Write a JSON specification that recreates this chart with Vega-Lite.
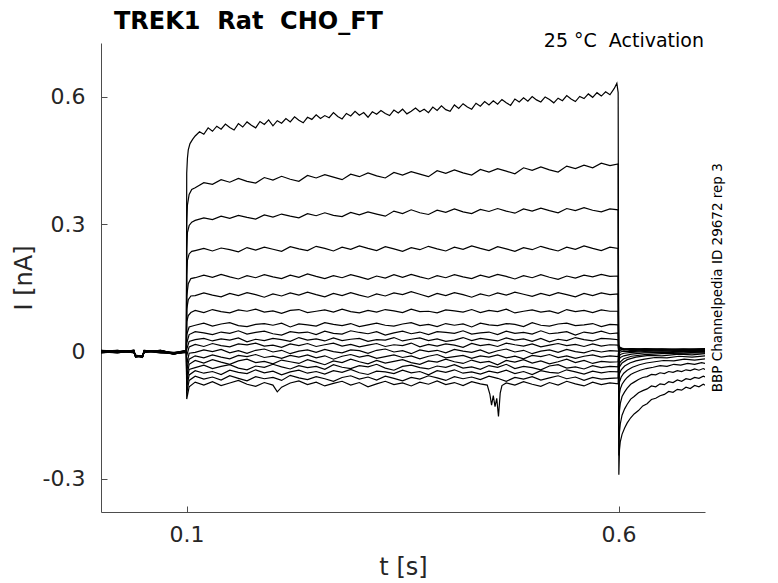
{
  "$schema": "https://vega.github.io/schema/vega-lite/v6.json",
  "description": "TREK1 Rat CHO_FT activation current traces, 25 C",
  "width": 604,
  "height": 469,
  "autosize": {"type": "none"},
  "padding": {"left": 101, "top": 43, "right": 73, "bottom": 71},
  "background": "white",
  "title": {
    "text": "TREK1 \u00a0Rat \u00a0CHO_FT",
    "anchor": "start",
    "frame": "group",
    "dx": 13,
    "dy": 22,
    "offset": 1,
    "baseline": "alphabetic",
    "fontSize": 24,
    "fontWeight": "bold",
    "font": "DejaVu Sans",
    "color": "#000000"
  },
  "config": {"view": {"stroke": null}, "font": "DejaVu Sans"},
  "data": {
    "values": [
      {"k":1,"t":0.001,"I":0.002},{"k":1,"t":0.02,"I":-0.002},{"k":1,"t":0.039,"I":0.001},{"k":1,"t":0.041,"I":-0.011},{"k":1,"t":0.049,"I":-0.013},{"k":1,"t":0.051,"I":0.0},{"k":1,"t":0.07,"I":0.003},{"k":1,"t":0.085,"I":-0.004},{"k":1,"t":0.0998,"I":0.001},
      {"k":1,"t":0.1002,"I":0.42},{"k":1,"t":0.101,"I":0.455},{"k":1,"t":0.102,"I":0.475},{"k":1,"t":0.104,"I":0.49},{"k":1,"t":0.107,"I":0.5},
      {"k":1,"t":0.110,"I":0.508},{"k":1,"t":0.115,"I":0.518},{"k":1,"t":0.120,"I":0.512},{"k":1,"t":0.125,"I":0.527},{"k":1,"t":0.130,"I":0.519},{"k":1,"t":0.135,"I":0.531},{"k":1,"t":0.140,"I":0.524},{"k":1,"t":0.145,"I":0.536},{"k":1,"t":0.150,"I":0.528},{"k":1,"t":0.155,"I":0.522},
      {"k":1,"t":0.160,"I":0.537},{"k":1,"t":0.165,"I":0.529},{"k":1,"t":0.170,"I":0.541},{"k":1,"t":0.175,"I":0.533},{"k":1,"t":0.180,"I":0.527},{"k":1,"t":0.185,"I":0.542},{"k":1,"t":0.190,"I":0.535},{"k":1,"t":0.195,"I":0.546},{"k":1,"t":0.200,"I":0.532},{"k":1,"t":0.205,"I":0.544},
      {"k":1,"t":0.210,"I":0.538},{"k":1,"t":0.215,"I":0.549},{"k":1,"t":0.220,"I":0.541},{"k":1,"t":0.225,"I":0.553},{"k":1,"t":0.230,"I":0.545},{"k":1,"t":0.235,"I":0.539},{"k":1,"t":0.240,"I":0.552},{"k":1,"t":0.245,"I":0.547},{"k":1,"t":0.250,"I":0.558},{"k":1,"t":0.255,"I":0.549},
      {"k":1,"t":0.260,"I":0.556},{"k":1,"t":0.265,"I":0.551},{"k":1,"t":0.270,"I":0.563},{"k":1,"t":0.275,"I":0.554},{"k":1,"t":0.280,"I":0.548},{"k":1,"t":0.285,"I":0.561},{"k":1,"t":0.290,"I":0.555},{"k":1,"t":0.295,"I":0.566},{"k":1,"t":0.300,"I":0.557},{"k":1,"t":0.305,"I":0.563},
      {"k":1,"t":0.310,"I":0.552},{"k":1,"t":0.315,"I":0.565},{"k":1,"t":0.320,"I":0.559},{"k":1,"t":0.325,"I":0.568},{"k":1,"t":0.330,"I":0.561},{"k":1,"t":0.335,"I":0.556},{"k":1,"t":0.340,"I":0.569},{"k":1,"t":0.345,"I":0.562},{"k":1,"t":0.350,"I":0.571},{"k":1,"t":0.355,"I":0.560},
      {"k":1,"t":0.360,"I":0.566},{"k":1,"t":0.365,"I":0.574},{"k":1,"t":0.370,"I":0.565},{"k":1,"t":0.375,"I":0.571},{"k":1,"t":0.380,"I":0.563},{"k":1,"t":0.385,"I":0.576},{"k":1,"t":0.390,"I":0.568},{"k":1,"t":0.395,"I":0.579},{"k":1,"t":0.400,"I":0.570},{"k":1,"t":0.405,"I":0.566},
      {"k":1,"t":0.410,"I":0.581},{"k":1,"t":0.415,"I":0.573},{"k":1,"t":0.420,"I":0.584},{"k":1,"t":0.425,"I":0.576},{"k":1,"t":0.430,"I":0.571},{"k":1,"t":0.435,"I":0.585},{"k":1,"t":0.440,"I":0.578},{"k":1,"t":0.445,"I":0.589},{"k":1,"t":0.450,"I":0.581},{"k":1,"t":0.455,"I":0.591},
      {"k":1,"t":0.460,"I":0.583},{"k":1,"t":0.465,"I":0.594},{"k":1,"t":0.470,"I":0.586},{"k":1,"t":0.475,"I":0.580},{"k":1,"t":0.480,"I":0.595},{"k":1,"t":0.485,"I":0.588},{"k":1,"t":0.490,"I":0.598},{"k":1,"t":0.495,"I":0.590},{"k":1,"t":0.500,"I":0.601},{"k":1,"t":0.505,"I":0.593},
      {"k":1,"t":0.510,"I":0.588},{"k":1,"t":0.515,"I":0.600},{"k":1,"t":0.520,"I":0.594},{"k":1,"t":0.525,"I":0.586},{"k":1,"t":0.530,"I":0.597},{"k":1,"t":0.535,"I":0.591},{"k":1,"t":0.540,"I":0.603},{"k":1,"t":0.545,"I":0.595},{"k":1,"t":0.550,"I":0.589},{"k":1,"t":0.555,"I":0.601},
      {"k":1,"t":0.560,"I":0.596},{"k":1,"t":0.565,"I":0.607},{"k":1,"t":0.570,"I":0.599},{"k":1,"t":0.575,"I":0.610},{"k":1,"t":0.580,"I":0.602},{"k":1,"t":0.585,"I":0.612},{"k":1,"t":0.590,"I":0.605},{"k":1,"t":0.595,"I":0.620},{"k":1,"t":0.598,"I":0.632},{"k":1,"t":0.5995,"I":0.610},
      {"k":1,"t":0.6003,"I":-0.29},{"k":1,"t":0.601,"I":-0.232},{"k":1,"t":0.602,"I":-0.212},{"k":1,"t":0.604,"I":-0.195},{"k":1,"t":0.607,"I":-0.18},{"k":1,"t":0.61,"I":-0.168},{"k":1,"t":0.614,"I":-0.156},{"k":1,"t":0.618,"I":-0.147},{"k":1,"t":0.623,"I":-0.139},{"k":1,"t":0.628,"I":-0.128},
      {"k":1,"t":0.633,"I":-0.123},{"k":1,"t":0.638,"I":-0.113},{"k":1,"t":0.643,"I":-0.11},{"k":1,"t":0.648,"I":-0.104},{"k":1,"t":0.653,"I":-0.101},{"k":1,"t":0.658,"I":-0.094},{"k":1,"t":0.663,"I":-0.096},{"k":1,"t":0.668,"I":-0.089},{"k":1,"t":0.673,"I":-0.091},{"k":1,"t":0.678,"I":-0.084},
      {"k":1,"t":0.683,"I":-0.087},{"k":1,"t":0.688,"I":-0.08},{"k":1,"t":0.693,"I":-0.083},{"k":1,"t":0.698,"I":-0.077},{"k":1,"t":0.7,"I":-0.079},

      {"k":2,"t":0.001,"I":-0.001},{"k":2,"t":0.02,"I":0.003},{"k":2,"t":0.039,"I":-0.002},{"k":2,"t":0.041,"I":-0.009},{"k":2,"t":0.049,"I":-0.012},{"k":2,"t":0.051,"I":0.002},{"k":2,"t":0.07,"I":-0.001},{"k":2,"t":0.085,"I":-0.006},{"k":2,"t":0.0998,"I":0.002},
      {"k":2,"t":0.1002,"I":0.30},{"k":2,"t":0.101,"I":0.345},{"k":2,"t":0.103,"I":0.37},{"k":2,"t":0.106,"I":0.382},
      {"k":2,"t":0.11,"I":0.386},{"k":2,"t":0.12,"I":0.398},{"k":2,"t":0.13,"I":0.394},{"k":2,"t":0.14,"I":0.405},{"k":2,"t":0.15,"I":0.399},{"k":2,"t":0.16,"I":0.408},{"k":2,"t":0.17,"I":0.401},{"k":2,"t":0.18,"I":0.397},{"k":2,"t":0.19,"I":0.41},{"k":2,"t":0.2,"I":0.404},
      {"k":2,"t":0.21,"I":0.413},{"k":2,"t":0.22,"I":0.406},{"k":2,"t":0.23,"I":0.401},{"k":2,"t":0.24,"I":0.415},{"k":2,"t":0.25,"I":0.409},{"k":2,"t":0.26,"I":0.417},{"k":2,"t":0.27,"I":0.411},{"k":2,"t":0.28,"I":0.405},{"k":2,"t":0.29,"I":0.418},{"k":2,"t":0.3,"I":0.412},
      {"k":2,"t":0.31,"I":0.421},{"k":2,"t":0.32,"I":0.414},{"k":2,"t":0.33,"I":0.409},{"k":2,"t":0.34,"I":0.422},{"k":2,"t":0.35,"I":0.416},{"k":2,"t":0.36,"I":0.424},{"k":2,"t":0.37,"I":0.418},{"k":2,"t":0.38,"I":0.412},{"k":2,"t":0.39,"I":0.426},{"k":2,"t":0.4,"I":0.42},
      {"k":2,"t":0.41,"I":0.428},{"k":2,"t":0.42,"I":0.421},{"k":2,"t":0.43,"I":0.416},{"k":2,"t":0.44,"I":0.429},{"k":2,"t":0.45,"I":0.423},{"k":2,"t":0.46,"I":0.431},{"k":2,"t":0.47,"I":0.425},{"k":2,"t":0.48,"I":0.419},{"k":2,"t":0.49,"I":0.433},{"k":2,"t":0.5,"I":0.427},
      {"k":2,"t":0.51,"I":0.435},{"k":2,"t":0.52,"I":0.428},{"k":2,"t":0.53,"I":0.423},{"k":2,"t":0.54,"I":0.437},{"k":2,"t":0.55,"I":0.431},{"k":2,"t":0.56,"I":0.439},{"k":2,"t":0.57,"I":0.433},{"k":2,"t":0.58,"I":0.444},{"k":2,"t":0.59,"I":0.438},{"k":2,"t":0.5995,"I":0.442},
      {"k":2,"t":0.6003,"I":-0.245},{"k":2,"t":0.601,"I":-0.19},{"k":2,"t":0.602,"I":-0.17},{"k":2,"t":0.604,"I":-0.15},{"k":2,"t":0.607,"I":-0.135},{"k":2,"t":0.61,"I":-0.124},{"k":2,"t":0.614,"I":-0.112},{"k":2,"t":0.618,"I":-0.106},{"k":2,"t":0.623,"I":-0.097},{"k":2,"t":0.628,"I":-0.092},
      {"k":2,"t":0.633,"I":-0.088},{"k":2,"t":0.638,"I":-0.081},{"k":2,"t":0.643,"I":-0.083},{"k":2,"t":0.648,"I":-0.076},{"k":2,"t":0.653,"I":-0.078},{"k":2,"t":0.658,"I":-0.071},{"k":2,"t":0.663,"I":-0.073},{"k":2,"t":0.668,"I":-0.067},{"k":2,"t":0.673,"I":-0.07},{"k":2,"t":0.678,"I":-0.064},
      {"k":2,"t":0.683,"I":-0.066},{"k":2,"t":0.688,"I":-0.061},{"k":2,"t":0.693,"I":-0.063},{"k":2,"t":0.698,"I":-0.058},{"k":2,"t":0.7,"I":-0.06},

      {"k":3,"t":0.001,"I":0.003},{"k":3,"t":0.02,"I":-0.001},{"k":3,"t":0.039,"I":0.002},{"k":3,"t":0.041,"I":-0.012},{"k":3,"t":0.049,"I":-0.01},{"k":3,"t":0.051,"I":-0.001},{"k":3,"t":0.07,"I":0.002},{"k":3,"t":0.085,"I":-0.003},{"k":3,"t":0.0998,"I":-0.001},
      {"k":3,"t":0.1002,"I":0.24},{"k":3,"t":0.101,"I":0.28},{"k":3,"t":0.103,"I":0.297},{"k":3,"t":0.106,"I":0.305},
      {"k":3,"t":0.11,"I":0.309},{"k":3,"t":0.12,"I":0.315},{"k":3,"t":0.13,"I":0.311},{"k":3,"t":0.14,"I":0.319},{"k":3,"t":0.15,"I":0.314},{"k":3,"t":0.16,"I":0.321},{"k":3,"t":0.17,"I":0.316},{"k":3,"t":0.18,"I":0.312},{"k":3,"t":0.19,"I":0.322},{"k":3,"t":0.2,"I":0.317},
      {"k":3,"t":0.21,"I":0.324},{"k":3,"t":0.22,"I":0.319},{"k":3,"t":0.23,"I":0.315},{"k":3,"t":0.24,"I":0.325},{"k":3,"t":0.25,"I":0.32},{"k":3,"t":0.26,"I":0.327},{"k":3,"t":0.27,"I":0.321},{"k":3,"t":0.28,"I":0.318},{"k":3,"t":0.29,"I":0.328},{"k":3,"t":0.3,"I":0.322},
      {"k":3,"t":0.31,"I":0.329},{"k":3,"t":0.32,"I":0.324},{"k":3,"t":0.33,"I":0.319},{"k":3,"t":0.34,"I":0.331},{"k":3,"t":0.35,"I":0.325},{"k":3,"t":0.36,"I":0.334},{"k":3,"t":0.37,"I":0.327},{"k":3,"t":0.38,"I":0.323},{"k":3,"t":0.39,"I":0.333},{"k":3,"t":0.4,"I":0.328},
      {"k":3,"t":0.41,"I":0.336},{"k":3,"t":0.42,"I":0.329},{"k":3,"t":0.43,"I":0.325},{"k":3,"t":0.44,"I":0.335},{"k":3,"t":0.45,"I":0.33},{"k":3,"t":0.46,"I":0.337},{"k":3,"t":0.47,"I":0.331},{"k":3,"t":0.48,"I":0.326},{"k":3,"t":0.49,"I":0.336},{"k":3,"t":0.5,"I":0.331},
      {"k":3,"t":0.51,"I":0.338},{"k":3,"t":0.52,"I":0.332},{"k":3,"t":0.53,"I":0.327},{"k":3,"t":0.54,"I":0.337},{"k":3,"t":0.55,"I":0.332},{"k":3,"t":0.56,"I":0.339},{"k":3,"t":0.57,"I":0.333},{"k":3,"t":0.58,"I":0.329},{"k":3,"t":0.59,"I":0.336},{"k":3,"t":0.5995,"I":0.334},
      {"k":3,"t":0.6003,"I":-0.185},{"k":3,"t":0.601,"I":-0.14},{"k":3,"t":0.602,"I":-0.122},{"k":3,"t":0.604,"I":-0.106},{"k":3,"t":0.607,"I":-0.095},{"k":3,"t":0.61,"I":-0.086},{"k":3,"t":0.614,"I":-0.077},{"k":3,"t":0.618,"I":-0.072},{"k":3,"t":0.623,"I":-0.066},{"k":3,"t":0.628,"I":-0.061},
      {"k":3,"t":0.633,"I":-0.059},{"k":3,"t":0.638,"I":-0.054},{"k":3,"t":0.643,"I":-0.055},{"k":3,"t":0.648,"I":-0.05},{"k":3,"t":0.653,"I":-0.052},{"k":3,"t":0.658,"I":-0.047},{"k":3,"t":0.663,"I":-0.049},{"k":3,"t":0.668,"I":-0.045},{"k":3,"t":0.673,"I":-0.047},{"k":3,"t":0.678,"I":-0.043},
      {"k":3,"t":0.683,"I":-0.045},{"k":3,"t":0.688,"I":-0.041},{"k":3,"t":0.693,"I":-0.044},{"k":3,"t":0.698,"I":-0.04},{"k":3,"t":0.7,"I":-0.042},

      {"k":4,"t":0.001,"I":-0.002},{"k":4,"t":0.02,"I":0.002},{"k":4,"t":0.039,"I":-0.001},{"k":4,"t":0.041,"I":-0.008},{"k":4,"t":0.049,"I":-0.013},{"k":4,"t":0.051,"I":0.001},{"k":4,"t":0.07,"I":-0.002},{"k":4,"t":0.085,"I":-0.005},{"k":4,"t":0.0998,"I":0.003},
      {"k":4,"t":0.1002,"I":0.18},{"k":4,"t":0.101,"I":0.215},{"k":4,"t":0.103,"I":0.23},{"k":4,"t":0.106,"I":0.236},
      {"k":4,"t":0.11,"I":0.238},{"k":4,"t":0.12,"I":0.243},{"k":4,"t":0.13,"I":0.237},{"k":4,"t":0.14,"I":0.244},{"k":4,"t":0.15,"I":0.24},{"k":4,"t":0.16,"I":0.235},{"k":4,"t":0.17,"I":0.245},{"k":4,"t":0.18,"I":0.239},{"k":4,"t":0.19,"I":0.246},{"k":4,"t":0.2,"I":0.241},
      {"k":4,"t":0.21,"I":0.236},{"k":4,"t":0.22,"I":0.247},{"k":4,"t":0.23,"I":0.242},{"k":4,"t":0.24,"I":0.238},{"k":4,"t":0.25,"I":0.248},{"k":4,"t":0.26,"I":0.243},{"k":4,"t":0.27,"I":0.237},{"k":4,"t":0.28,"I":0.246},{"k":4,"t":0.29,"I":0.241},{"k":4,"t":0.3,"I":0.249},
      {"k":4,"t":0.31,"I":0.243},{"k":4,"t":0.32,"I":0.238},{"k":4,"t":0.33,"I":0.247},{"k":4,"t":0.34,"I":0.242},{"k":4,"t":0.35,"I":0.236},{"k":4,"t":0.36,"I":0.245},{"k":4,"t":0.37,"I":0.24},{"k":4,"t":0.38,"I":0.248},{"k":4,"t":0.39,"I":0.242},{"k":4,"t":0.4,"I":0.237},
      {"k":4,"t":0.41,"I":0.246},{"k":4,"t":0.42,"I":0.241},{"k":4,"t":0.43,"I":0.249},{"k":4,"t":0.44,"I":0.243},{"k":4,"t":0.45,"I":0.238},{"k":4,"t":0.46,"I":0.247},{"k":4,"t":0.47,"I":0.242},{"k":4,"t":0.48,"I":0.236},{"k":4,"t":0.49,"I":0.245},{"k":4,"t":0.5,"I":0.24},
      {"k":4,"t":0.51,"I":0.248},{"k":4,"t":0.52,"I":0.242},{"k":4,"t":0.53,"I":0.237},{"k":4,"t":0.54,"I":0.246},{"k":4,"t":0.55,"I":0.241},{"k":4,"t":0.56,"I":0.249},{"k":4,"t":0.57,"I":0.243},{"k":4,"t":0.58,"I":0.238},{"k":4,"t":0.59,"I":0.246},{"k":4,"t":0.5995,"I":0.243},
      {"k":4,"t":0.6003,"I":-0.13},{"k":4,"t":0.601,"I":-0.1},{"k":4,"t":0.602,"I":-0.088},{"k":4,"t":0.604,"I":-0.077},{"k":4,"t":0.607,"I":-0.068},{"k":4,"t":0.61,"I":-0.061},{"k":4,"t":0.614,"I":-0.054},{"k":4,"t":0.618,"I":-0.05},{"k":4,"t":0.625,"I":-0.044},{"k":4,"t":0.632,"I":-0.04},
      {"k":4,"t":0.64,"I":-0.037},{"k":4,"t":0.648,"I":-0.033},{"k":4,"t":0.656,"I":-0.035},{"k":4,"t":0.664,"I":-0.03},{"k":4,"t":0.672,"I":-0.032},{"k":4,"t":0.68,"I":-0.028},{"k":4,"t":0.688,"I":-0.03},{"k":4,"t":0.696,"I":-0.026},{"k":4,"t":0.7,"I":-0.028},

      {"k":5,"t":0.001,"I":0.001},{"k":5,"t":0.02,"I":-0.003},{"k":5,"t":0.039,"I":0.003},{"k":5,"t":0.041,"I":-0.01},{"k":5,"t":0.049,"I":-0.011},{"k":5,"t":0.051,"I":0.002},{"k":5,"t":0.07,"I":0.001},{"k":5,"t":0.085,"I":-0.002},{"k":5,"t":0.0998,"I":0.0},
      {"k":5,"t":0.1002,"I":0.13},{"k":5,"t":0.102,"I":0.16},{"k":5,"t":0.105,"I":0.172},
      {"k":5,"t":0.11,"I":0.174},{"k":5,"t":0.12,"I":0.18},{"k":5,"t":0.13,"I":0.175},{"k":5,"t":0.14,"I":0.182},{"k":5,"t":0.15,"I":0.176},{"k":5,"t":0.16,"I":0.171},{"k":5,"t":0.17,"I":0.179},{"k":5,"t":0.18,"I":0.174},{"k":5,"t":0.19,"I":0.181},{"k":5,"t":0.2,"I":0.176},
      {"k":5,"t":0.21,"I":0.172},{"k":5,"t":0.22,"I":0.18},{"k":5,"t":0.23,"I":0.175},{"k":5,"t":0.24,"I":0.183},{"k":5,"t":0.25,"I":0.177},{"k":5,"t":0.26,"I":0.172},{"k":5,"t":0.27,"I":0.179},{"k":5,"t":0.28,"I":0.174},{"k":5,"t":0.29,"I":0.181},{"k":5,"t":0.3,"I":0.176},
      {"k":5,"t":0.31,"I":0.17},{"k":5,"t":0.32,"I":0.178},{"k":5,"t":0.33,"I":0.173},{"k":5,"t":0.34,"I":0.181},{"k":5,"t":0.35,"I":0.175},{"k":5,"t":0.36,"I":0.182},{"k":5,"t":0.37,"I":0.176},{"k":5,"t":0.38,"I":0.171},{"k":5,"t":0.39,"I":0.179},{"k":5,"t":0.4,"I":0.174},
      {"k":5,"t":0.41,"I":0.181},{"k":5,"t":0.42,"I":0.176},{"k":5,"t":0.43,"I":0.172},{"k":5,"t":0.44,"I":0.18},{"k":5,"t":0.45,"I":0.175},{"k":5,"t":0.46,"I":0.182},{"k":5,"t":0.47,"I":0.177},{"k":5,"t":0.48,"I":0.171},{"k":5,"t":0.49,"I":0.179},{"k":5,"t":0.5,"I":0.174},
      {"k":5,"t":0.51,"I":0.181},{"k":5,"t":0.52,"I":0.175},{"k":5,"t":0.53,"I":0.17},{"k":5,"t":0.54,"I":0.178},{"k":5,"t":0.55,"I":0.173},{"k":5,"t":0.56,"I":0.18},{"k":5,"t":0.57,"I":0.176},{"k":5,"t":0.58,"I":0.182},{"k":5,"t":0.59,"I":0.177},{"k":5,"t":0.5995,"I":0.178},
      {"k":5,"t":0.6003,"I":-0.09},{"k":5,"t":0.601,"I":-0.072},{"k":5,"t":0.603,"I":-0.06},{"k":5,"t":0.606,"I":-0.051},{"k":5,"t":0.61,"I":-0.044},{"k":5,"t":0.616,"I":-0.037},{"k":5,"t":0.624,"I":-0.031},{"k":5,"t":0.632,"I":-0.027},{"k":5,"t":0.642,"I":-0.024},{"k":5,"t":0.652,"I":-0.021},
      {"k":5,"t":0.664,"I":-0.022},{"k":5,"t":0.676,"I":-0.018},{"k":5,"t":0.688,"I":-0.02},{"k":5,"t":0.7,"I":-0.017},

      {"k":6,"t":0.001,"I":-0.003},{"k":6,"t":0.02,"I":0.001},{"k":6,"t":0.039,"I":0.0},{"k":6,"t":0.041,"I":-0.013},{"k":6,"t":0.049,"I":-0.009},{"k":6,"t":0.051,"I":-0.002},{"k":6,"t":0.07,"I":0.003},{"k":6,"t":0.085,"I":-0.005},{"k":6,"t":0.0998,"I":0.002},
      {"k":6,"t":0.1002,"I":0.10},{"k":6,"t":0.102,"I":0.122},{"k":6,"t":0.105,"I":0.131},
      {"k":6,"t":0.11,"I":0.132},{"k":6,"t":0.12,"I":0.138},{"k":6,"t":0.13,"I":0.133},{"k":6,"t":0.14,"I":0.129},{"k":6,"t":0.15,"I":0.137},{"k":6,"t":0.16,"I":0.132},{"k":6,"t":0.17,"I":0.139},{"k":6,"t":0.18,"I":0.134},{"k":6,"t":0.19,"I":0.128},{"k":6,"t":0.2,"I":0.136},
      {"k":6,"t":0.21,"I":0.131},{"k":6,"t":0.22,"I":0.138},{"k":6,"t":0.23,"I":0.133},{"k":6,"t":0.24,"I":0.14},{"k":6,"t":0.25,"I":0.134},{"k":6,"t":0.26,"I":0.129},{"k":6,"t":0.27,"I":0.137},{"k":6,"t":0.28,"I":0.132},{"k":6,"t":0.29,"I":0.139},{"k":6,"t":0.3,"I":0.133},
      {"k":6,"t":0.31,"I":0.128},{"k":6,"t":0.32,"I":0.136},{"k":6,"t":0.33,"I":0.131},{"k":6,"t":0.34,"I":0.138},{"k":6,"t":0.35,"I":0.134},{"k":6,"t":0.36,"I":0.141},{"k":6,"t":0.37,"I":0.135},{"k":6,"t":0.38,"I":0.129},{"k":6,"t":0.39,"I":0.137},{"k":6,"t":0.4,"I":0.132},
      {"k":6,"t":0.41,"I":0.139},{"k":6,"t":0.42,"I":0.134},{"k":6,"t":0.43,"I":0.128},{"k":6,"t":0.44,"I":0.136},{"k":6,"t":0.45,"I":0.131},{"k":6,"t":0.46,"I":0.138},{"k":6,"t":0.47,"I":0.133},{"k":6,"t":0.48,"I":0.14},{"k":6,"t":0.49,"I":0.135},{"k":6,"t":0.5,"I":0.13},
      {"k":6,"t":0.51,"I":0.137},{"k":6,"t":0.52,"I":0.132},{"k":6,"t":0.53,"I":0.139},{"k":6,"t":0.54,"I":0.134},{"k":6,"t":0.55,"I":0.129},{"k":6,"t":0.56,"I":0.137},{"k":6,"t":0.57,"I":0.132},{"k":6,"t":0.58,"I":0.138},{"k":6,"t":0.59,"I":0.134},{"k":6,"t":0.5995,"I":0.136},
      {"k":6,"t":0.6003,"I":-0.065},{"k":6,"t":0.601,"I":-0.052},{"k":6,"t":0.603,"I":-0.043},{"k":6,"t":0.607,"I":-0.034},{"k":6,"t":0.613,"I":-0.027},{"k":6,"t":0.62,"I":-0.022},{"k":6,"t":0.63,"I":-0.018},{"k":6,"t":0.642,"I":-0.014},{"k":6,"t":0.656,"I":-0.015},{"k":6,"t":0.67,"I":-0.011},{"k":6,"t":0.685,"I":-0.013},{"k":6,"t":0.7,"I":-0.01},

      {"k":7,"t":0.001,"I":0.002},{"k":7,"t":0.02,"I":0.0},{"k":7,"t":0.039,"I":-0.002},{"k":7,"t":0.041,"I":-0.011},{"k":7,"t":0.049,"I":-0.012},{"k":7,"t":0.051,"I":0.001},{"k":7,"t":0.07,"I":-0.003},{"k":7,"t":0.085,"I":-0.004},{"k":7,"t":0.0998,"I":-0.001},
      {"k":7,"t":0.1002,"I":0.07},{"k":7,"t":0.102,"I":0.085},{"k":7,"t":0.105,"I":0.092},
      {"k":7,"t":0.11,"I":0.097},{"k":7,"t":0.12,"I":0.092},{"k":7,"t":0.13,"I":0.099},{"k":7,"t":0.14,"I":0.094},{"k":7,"t":0.15,"I":0.091},{"k":7,"t":0.16,"I":0.098},{"k":7,"t":0.17,"I":0.095},{"k":7,"t":0.18,"I":0.1},{"k":7,"t":0.19,"I":0.093},{"k":7,"t":0.2,"I":0.096},
      {"k":7,"t":0.21,"I":0.09},{"k":7,"t":0.22,"I":0.097},{"k":7,"t":0.23,"I":0.099},{"k":7,"t":0.24,"I":0.092},{"k":7,"t":0.25,"I":0.095},{"k":7,"t":0.26,"I":0.098},{"k":7,"t":0.27,"I":0.093},{"k":7,"t":0.28,"I":0.1},{"k":7,"t":0.29,"I":0.094},{"k":7,"t":0.3,"I":0.091},
      {"k":7,"t":0.31,"I":0.097},{"k":7,"t":0.32,"I":0.093},{"k":7,"t":0.33,"I":0.099},{"k":7,"t":0.34,"I":0.096},{"k":7,"t":0.35,"I":0.092},{"k":7,"t":0.36,"I":0.1},{"k":7,"t":0.37,"I":0.094},{"k":7,"t":0.38,"I":0.095},{"k":7,"t":0.39,"I":0.091},{"k":7,"t":0.4,"I":0.098},
      {"k":7,"t":0.41,"I":0.096},{"k":7,"t":0.42,"I":0.093},{"k":7,"t":0.43,"I":0.099},{"k":7,"t":0.44,"I":0.092},{"k":7,"t":0.45,"I":0.097},{"k":7,"t":0.46,"I":0.094},{"k":7,"t":0.47,"I":0.1},{"k":7,"t":0.48,"I":0.091},{"k":7,"t":0.49,"I":0.095},{"k":7,"t":0.5,"I":0.098},
      {"k":7,"t":0.51,"I":0.093},{"k":7,"t":0.52,"I":0.096},{"k":7,"t":0.53,"I":0.09},{"k":7,"t":0.54,"I":0.099},{"k":7,"t":0.55,"I":0.094},{"k":7,"t":0.56,"I":0.097},{"k":7,"t":0.57,"I":0.092},{"k":7,"t":0.58,"I":0.098},{"k":7,"t":0.59,"I":0.095},{"k":7,"t":0.5995,"I":0.095},
      {"k":7,"t":0.6003,"I":-0.045},{"k":7,"t":0.601,"I":-0.036},{"k":7,"t":0.604,"I":-0.027},{"k":7,"t":0.61,"I":-0.019},{"k":7,"t":0.62,"I":-0.013},{"k":7,"t":0.635,"I":-0.009},{"k":7,"t":0.65,"I":-0.01},{"k":7,"t":0.67,"I":-0.006},{"k":7,"t":0.685,"I":-0.008},{"k":7,"t":0.7,"I":-0.005},

      {"k":8,"t":0.001,"I":0.0},{"k":8,"t":0.02,"I":0.002},{"k":8,"t":0.039,"I":0.001},{"k":8,"t":0.041,"I":-0.009},{"k":8,"t":0.049,"I":-0.014},{"k":8,"t":0.051,"I":0.0},{"k":8,"t":0.07,"I":0.002},{"k":8,"t":0.085,"I":-0.006},{"k":8,"t":0.0998,"I":0.001},
      {"k":8,"t":0.1002,"I":0.04},{"k":8,"t":0.103,"I":0.058},
      {"k":8,"t":0.11,"I":0.062},{"k":8,"t":0.12,"I":0.067},{"k":8,"t":0.13,"I":0.06},{"k":8,"t":0.14,"I":0.065},{"k":8,"t":0.15,"I":0.068},{"k":8,"t":0.16,"I":0.061},{"k":8,"t":0.17,"I":0.059},{"k":8,"t":0.18,"I":0.064},{"k":8,"t":0.19,"I":0.066},{"k":8,"t":0.2,"I":0.062},
      {"k":8,"t":0.21,"I":0.067},{"k":8,"t":0.22,"I":0.058},{"k":8,"t":0.23,"I":0.065},{"k":8,"t":0.24,"I":0.063},{"k":8,"t":0.25,"I":0.06},{"k":8,"t":0.26,"I":0.068},{"k":8,"t":0.27,"I":0.064},{"k":8,"t":0.28,"I":0.061},{"k":8,"t":0.29,"I":0.066},{"k":8,"t":0.3,"I":0.059},
      {"k":8,"t":0.31,"I":0.063},{"k":8,"t":0.32,"I":0.067},{"k":8,"t":0.33,"I":0.062},{"k":8,"t":0.34,"I":0.06},{"k":8,"t":0.35,"I":0.065},{"k":8,"t":0.36,"I":0.068},{"k":8,"t":0.37,"I":0.061},{"k":8,"t":0.38,"I":0.064},{"k":8,"t":0.39,"I":0.059},{"k":8,"t":0.4,"I":0.066},
      {"k":8,"t":0.41,"I":0.062},{"k":8,"t":0.42,"I":0.065},{"k":8,"t":0.43,"I":0.058},{"k":8,"t":0.44,"I":0.067},{"k":8,"t":0.45,"I":0.063},{"k":8,"t":0.46,"I":0.061},{"k":8,"t":0.47,"I":0.066},{"k":8,"t":0.48,"I":0.064},{"k":8,"t":0.49,"I":0.059},{"k":8,"t":0.5,"I":0.068},
      {"k":8,"t":0.51,"I":0.062},{"k":8,"t":0.52,"I":0.06},{"k":8,"t":0.53,"I":0.065},{"k":8,"t":0.54,"I":0.067},{"k":8,"t":0.55,"I":0.061},{"k":8,"t":0.56,"I":0.063},{"k":8,"t":0.57,"I":0.066},{"k":8,"t":0.58,"I":0.059},{"k":8,"t":0.59,"I":0.064},{"k":8,"t":0.5995,"I":0.063},
      {"k":8,"t":0.6003,"I":-0.032},{"k":8,"t":0.602,"I":-0.024},{"k":8,"t":0.606,"I":-0.017},{"k":8,"t":0.615,"I":-0.011},{"k":8,"t":0.63,"I":-0.007},{"k":8,"t":0.65,"I":-0.005},{"k":8,"t":0.675,"I":-0.004},{"k":8,"t":0.7,"I":-0.003},

      {"k":9,"t":0.001,"I":-0.002},{"k":9,"t":0.02,"I":-0.001},{"k":9,"t":0.039,"I":0.003},{"k":9,"t":0.041,"I":-0.012},{"k":9,"t":0.049,"I":-0.011},{"k":9,"t":0.051,"I":0.003},{"k":9,"t":0.07,"I":-0.001},{"k":9,"t":0.085,"I":-0.003},{"k":9,"t":0.0998,"I":0.002},
      {"k":9,"t":0.1002,"I":0.02},{"k":9,"t":0.103,"I":0.04},
      {"k":9,"t":0.11,"I":0.047},{"k":9,"t":0.12,"I":0.044},{"k":9,"t":0.13,"I":0.04},{"k":9,"t":0.14,"I":0.046},{"k":9,"t":0.15,"I":0.043},{"k":9,"t":0.16,"I":0.049},{"k":9,"t":0.17,"I":0.041},{"k":9,"t":0.18,"I":0.045},{"k":9,"t":0.19,"I":0.048},{"k":9,"t":0.2,"I":0.042},
      {"k":9,"t":0.21,"I":0.039},{"k":9,"t":0.22,"I":0.047},{"k":9,"t":0.23,"I":0.044},{"k":9,"t":0.24,"I":0.046},{"k":9,"t":0.25,"I":0.04},{"k":9,"t":0.26,"I":0.048},{"k":9,"t":0.27,"I":0.043},{"k":9,"t":0.28,"I":0.041},{"k":9,"t":0.29,"I":0.049},{"k":9,"t":0.3,"I":0.045},
      {"k":9,"t":0.31,"I":0.042},{"k":9,"t":0.32,"I":0.047},{"k":9,"t":0.33,"I":0.039},{"k":9,"t":0.34,"I":0.044},{"k":9,"t":0.35,"I":0.048},{"k":9,"t":0.36,"I":0.042},{"k":9,"t":0.37,"I":0.046},{"k":9,"t":0.38,"I":0.04},{"k":9,"t":0.39,"I":0.047},{"k":9,"t":0.4,"I":0.045},
      {"k":9,"t":0.41,"I":0.043},{"k":9,"t":0.42,"I":0.049},{"k":9,"t":0.43,"I":0.041},{"k":9,"t":0.44,"I":0.044},{"k":9,"t":0.45,"I":0.046},{"k":9,"t":0.46,"I":0.04},{"k":9,"t":0.47,"I":0.048},{"k":9,"t":0.48,"I":0.043},{"k":9,"t":0.49,"I":0.045},{"k":9,"t":0.5,"I":0.041},
      {"k":9,"t":0.51,"I":0.049},{"k":9,"t":0.52,"I":0.042},{"k":9,"t":0.53,"I":0.044},{"k":9,"t":0.54,"I":0.047},{"k":9,"t":0.55,"I":0.039},{"k":9,"t":0.56,"I":0.046},{"k":9,"t":0.57,"I":0.043},{"k":9,"t":0.58,"I":0.048},{"k":9,"t":0.59,"I":0.042},{"k":9,"t":0.5995,"I":0.044},
      {"k":9,"t":0.6003,"I":-0.02},{"k":9,"t":0.602,"I":-0.014},{"k":9,"t":0.606,"I":-0.01},{"k":9,"t":0.615,"I":-0.006},{"k":9,"t":0.63,"I":-0.003},{"k":9,"t":0.65,"I":-0.002},{"k":9,"t":0.675,"I":-0.003},{"k":9,"t":0.7,"I":-0.001},

      {"k":10,"t":0.001,"I":0.003},{"k":10,"t":0.02,"I":0.001},{"k":10,"t":0.039,"I":-0.001},{"k":10,"t":0.041,"I":-0.01},{"k":10,"t":0.049,"I":-0.013},{"k":10,"t":0.051,"I":-0.001},{"k":10,"t":0.07,"I":0.001},{"k":10,"t":0.085,"I":-0.005},{"k":10,"t":0.0998,"I":-0.002},
      {"k":10,"t":0.1002,"I":0.005},{"k":10,"t":0.103,"I":0.024},
      {"k":10,"t":0.11,"I":0.028},{"k":10,"t":0.12,"I":0.031},{"k":10,"t":0.13,"I":0.025},{"k":10,"t":0.14,"I":0.03},{"k":10,"t":0.15,"I":0.027},{"k":10,"t":0.16,"I":0.032},{"k":10,"t":0.17,"I":0.023},{"k":10,"t":0.18,"I":0.029},{"k":10,"t":0.19,"I":0.026},{"k":10,"t":0.2,"I":0.031},
      {"k":10,"t":0.21,"I":0.028},{"k":10,"t":0.22,"I":0.024},{"k":10,"t":0.23,"I":0.033},{"k":10,"t":0.24,"I":0.027},{"k":10,"t":0.25,"I":0.03},{"k":10,"t":0.26,"I":0.025},{"k":10,"t":0.27,"I":0.032},{"k":10,"t":0.28,"I":0.026},{"k":10,"t":0.29,"I":0.029},{"k":10,"t":0.3,"I":0.031},
      {"k":10,"t":0.31,"I":0.024},{"k":10,"t":0.32,"I":0.028},{"k":10,"t":0.33,"I":0.027},{"k":10,"t":0.34,"I":0.033},{"k":10,"t":0.35,"I":0.025},{"k":10,"t":0.36,"I":0.029},{"k":10,"t":0.37,"I":0.032},{"k":10,"t":0.38,"I":0.026},{"k":10,"t":0.39,"I":0.03},{"k":10,"t":0.4,"I":0.024},
      {"k":10,"t":0.41,"I":0.027},{"k":10,"t":0.42,"I":0.033},{"k":10,"t":0.43,"I":0.026},{"k":10,"t":0.44,"I":0.031},{"k":10,"t":0.45,"I":0.028},{"k":10,"t":0.46,"I":0.025},{"k":10,"t":0.47,"I":0.032},{"k":10,"t":0.48,"I":0.027},{"k":10,"t":0.49,"I":0.03},{"k":10,"t":0.5,"I":0.024},
      {"k":10,"t":0.51,"I":0.031},{"k":10,"t":0.52,"I":0.023},{"k":10,"t":0.53,"I":0.029},{"k":10,"t":0.54,"I":0.026},{"k":10,"t":0.55,"I":0.033},{"k":10,"t":0.56,"I":0.028},{"k":10,"t":0.57,"I":0.025},{"k":10,"t":0.58,"I":0.031},{"k":10,"t":0.59,"I":0.03},{"k":10,"t":0.5995,"I":0.028},
      {"k":10,"t":0.6003,"I":-0.012},{"k":10,"t":0.602,"I":-0.007},{"k":10,"t":0.606,"I":-0.004},{"k":10,"t":0.615,"I":-0.002},{"k":10,"t":0.63,"I":0.0},{"k":10,"t":0.65,"I":-0.001},{"k":10,"t":0.675,"I":0.001},{"k":10,"t":0.7,"I":0.0},

      {"k":11,"t":0.001,"I":-0.001},{"k":11,"t":0.02,"I":-0.002},{"k":11,"t":0.039,"I":0.002},{"k":11,"t":0.041,"I":-0.013},{"k":11,"t":0.049,"I":-0.01},{"k":11,"t":0.051,"I":0.002},{"k":11,"t":0.07,"I":-0.002},{"k":11,"t":0.085,"I":-0.004},{"k":11,"t":0.0998,"I":0.001},
      {"k":11,"t":0.1002,"I":-0.01},{"k":11,"t":0.103,"I":0.011},
      {"k":11,"t":0.11,"I":0.017},{"k":11,"t":0.12,"I":0.012},{"k":11,"t":0.13,"I":0.019},{"k":11,"t":0.14,"I":0.014},{"k":11,"t":0.15,"I":0.011},{"k":11,"t":0.16,"I":0.018},{"k":11,"t":0.17,"I":0.016},{"k":11,"t":0.18,"I":0.02},{"k":11,"t":0.19,"I":0.013},{"k":11,"t":0.2,"I":0.015},
      {"k":11,"t":0.21,"I":0.01},{"k":11,"t":0.22,"I":0.018},{"k":11,"t":0.23,"I":0.014},{"k":11,"t":0.24,"I":0.019},{"k":11,"t":0.25,"I":0.012},{"k":11,"t":0.26,"I":0.016},{"k":11,"t":0.27,"I":0.02},{"k":11,"t":0.28,"I":0.013},{"k":11,"t":0.29,"I":0.017},{"k":11,"t":0.3,"I":0.011},
      {"k":11,"t":0.31,"I":0.015},{"k":11,"t":0.32,"I":0.019},{"k":11,"t":0.33,"I":0.012},{"k":11,"t":0.34,"I":0.016},{"k":11,"t":0.35,"I":0.014},{"k":11,"t":0.36,"I":0.02},{"k":11,"t":0.37,"I":0.011},{"k":11,"t":0.38,"I":0.017},{"k":11,"t":0.39,"I":0.013},{"k":11,"t":0.4,"I":0.018},
      {"k":11,"t":0.41,"I":0.015},{"k":11,"t":0.42,"I":0.01},{"k":11,"t":0.43,"I":0.019},{"k":11,"t":0.44,"I":0.014},{"k":11,"t":0.45,"I":0.017},{"k":11,"t":0.46,"I":0.012},{"k":11,"t":0.47,"I":0.02},{"k":11,"t":0.48,"I":0.016},{"k":11,"t":0.49,"I":0.013},{"k":11,"t":0.5,"I":0.018},
      {"k":11,"t":0.51,"I":0.011},{"k":11,"t":0.52,"I":0.015},{"k":11,"t":0.53,"I":0.019},{"k":11,"t":0.54,"I":0.014},{"k":11,"t":0.55,"I":0.017},{"k":11,"t":0.56,"I":0.012},{"k":11,"t":0.57,"I":0.018},{"k":11,"t":0.58,"I":0.013},{"k":11,"t":0.59,"I":0.016},{"k":11,"t":0.5995,"I":0.015},
      {"k":11,"t":0.6003,"I":-0.004},{"k":11,"t":0.602,"I":-0.001},{"k":11,"t":0.606,"I":0.001},{"k":11,"t":0.615,"I":0.0},{"k":11,"t":0.63,"I":0.002},{"k":11,"t":0.65,"I":0.001},{"k":11,"t":0.675,"I":0.003},{"k":11,"t":0.7,"I":0.002},

      {"k":12,"t":0.001,"I":0.001},{"k":12,"t":0.02,"I":0.003},{"k":12,"t":0.039,"I":-0.003},{"k":12,"t":0.041,"I":-0.008},{"k":12,"t":0.049,"I":-0.012},{"k":12,"t":0.051,"I":0.0},{"k":12,"t":0.07,"I":0.003},{"k":12,"t":0.085,"I":-0.006},{"k":12,"t":0.0998,"I":0.0},
      {"k":12,"t":0.1002,"I":-0.03},{"k":12,"t":0.103,"I":-0.004},
      {"k":12,"t":0.11,"I":-0.002},{"k":12,"t":0.12,"I":0.004},{"k":12,"t":0.13,"I":0.0},{"k":12,"t":0.14,"I":0.005},{"k":12,"t":0.15,"I":-0.003},{"k":12,"t":0.16,"I":0.002},{"k":12,"t":0.17,"I":-0.004},{"k":12,"t":0.18,"I":0.003},{"k":12,"t":0.19,"I":0.006},{"k":12,"t":0.2,"I":-0.001},
      {"k":12,"t":0.21,"I":0.003},{"k":12,"t":0.22,"I":-0.005},{"k":12,"t":0.23,"I":0.001},{"k":12,"t":0.24,"I":0.004},{"k":12,"t":0.25,"I":-0.002},{"k":12,"t":0.26,"I":0.005},{"k":12,"t":0.27,"I":0.0},{"k":12,"t":0.28,"I":-0.003},{"k":12,"t":0.29,"I":0.004},{"k":12,"t":0.3,"I":0.002},
      {"k":12,"t":0.31,"I":-0.004},{"k":12,"t":0.32,"I":0.003},{"k":12,"t":0.33,"I":0.006},{"k":12,"t":0.34,"I":-0.001},{"k":12,"t":0.35,"I":0.002},{"k":12,"t":0.36,"I":-0.005},{"k":12,"t":0.37,"I":0.004},{"k":12,"t":0.38,"I":0.0},{"k":12,"t":0.39,"I":0.003},{"k":12,"t":0.4,"I":-0.003},
      {"k":12,"t":0.41,"I":0.005},{"k":12,"t":0.42,"I":0.001},{"k":12,"t":0.43,"I":-0.002},{"k":12,"t":0.44,"I":0.004},{"k":12,"t":0.45,"I":-0.004},{"k":12,"t":0.46,"I":0.002},{"k":12,"t":0.47,"I":0.006},{"k":12,"t":0.48,"I":-0.001},{"k":12,"t":0.49,"I":0.003},{"k":12,"t":0.5,"I":-0.005},
      {"k":12,"t":0.51,"I":0.001},{"k":12,"t":0.52,"I":0.004},{"k":12,"t":0.53,"I":-0.002},{"k":12,"t":0.54,"I":0.005},{"k":12,"t":0.55,"I":0.0},{"k":12,"t":0.56,"I":-0.003},{"k":12,"t":0.57,"I":0.003},{"k":12,"t":0.58,"I":-0.001},{"k":12,"t":0.59,"I":0.002},{"k":12,"t":0.5995,"I":0.001},
      {"k":12,"t":0.6003,"I":0.004},{"k":12,"t":0.602,"I":0.003},{"k":12,"t":0.606,"I":0.005},{"k":12,"t":0.615,"I":0.002},{"k":12,"t":0.63,"I":0.004},{"k":12,"t":0.65,"I":0.003},{"k":12,"t":0.675,"I":0.005},{"k":12,"t":0.7,"I":0.003},

      {"k":13,"t":0.001,"I":-0.003},{"k":13,"t":0.02,"I":0.0},{"k":13,"t":0.039,"I":0.001},{"k":13,"t":0.041,"I":-0.011},{"k":13,"t":0.049,"I":-0.013},{"k":13,"t":0.051,"I":0.001},{"k":13,"t":0.07,"I":0.0},{"k":13,"t":0.085,"I":-0.003},{"k":13,"t":0.0998,"I":0.003},
      {"k":13,"t":0.1002,"I":-0.045},{"k":13,"t":0.103,"I":-0.018},
      {"k":13,"t":0.11,"I":-0.01},{"k":13,"t":0.12,"I":-0.015},{"k":13,"t":0.13,"I":-0.008},{"k":13,"t":0.14,"I":-0.013},{"k":13,"t":0.15,"I":-0.017},{"k":13,"t":0.16,"I":-0.009},{"k":13,"t":0.17,"I":-0.012},{"k":13,"t":0.18,"I":-0.007},{"k":13,"t":0.19,"I":-0.014},{"k":13,"t":0.2,"I":-0.011},
      {"k":13,"t":0.21,"I":-0.016},{"k":13,"t":0.22,"I":-0.009},{"k":13,"t":0.23,"I":-0.013},{"k":13,"t":0.24,"I":-0.008},{"k":13,"t":0.25,"I":-0.015},{"k":13,"t":0.26,"I":-0.01},{"k":13,"t":0.27,"I":-0.018},{"k":13,"t":0.28,"I":-0.011},{"k":13,"t":0.29,"I":-0.007},{"k":13,"t":0.3,"I":-0.013},
      {"k":13,"t":0.31,"I":-0.009},{"k":13,"t":0.32,"I":-0.016},{"k":13,"t":0.33,"I":-0.012},{"k":13,"t":0.34,"I":-0.008},{"k":13,"t":0.35,"I":-0.014},{"k":13,"t":0.36,"I":-0.01},{"k":13,"t":0.37,"I":-0.017},{"k":13,"t":0.38,"I":-0.011},{"k":13,"t":0.39,"I":-0.007},{"k":13,"t":0.4,"I":-0.015},
      {"k":13,"t":0.41,"I":-0.012},{"k":13,"t":0.42,"I":-0.009},{"k":13,"t":0.43,"I":-0.016},{"k":13,"t":0.44,"I":-0.01},{"k":13,"t":0.45,"I":-0.013},{"k":13,"t":0.46,"I":-0.008},{"k":13,"t":0.47,"I":-0.015},{"k":13,"t":0.48,"I":-0.011},{"k":13,"t":0.49,"I":-0.017},{"k":13,"t":0.5,"I":-0.009},
      {"k":13,"t":0.51,"I":-0.012},{"k":13,"t":0.52,"I":-0.007},{"k":13,"t":0.53,"I":-0.014},{"k":13,"t":0.54,"I":-0.01},{"k":13,"t":0.55,"I":-0.016},{"k":13,"t":0.56,"I":-0.011},{"k":13,"t":0.57,"I":-0.008},{"k":13,"t":0.58,"I":-0.013},{"k":13,"t":0.59,"I":-0.01},{"k":13,"t":0.5995,"I":-0.012},
      {"k":13,"t":0.6003,"I":0.008},{"k":13,"t":0.602,"I":0.006},{"k":13,"t":0.606,"I":0.004},{"k":13,"t":0.615,"I":0.006},{"k":13,"t":0.63,"I":0.003},{"k":13,"t":0.65,"I":0.005},{"k":13,"t":0.675,"I":0.004},{"k":13,"t":0.7,"I":0.006},

      {"k":14,"t":0.001,"I":0.002},{"k":14,"t":0.02,"I":-0.002},{"k":14,"t":0.039,"I":0.0},{"k":14,"t":0.041,"I":-0.012},{"k":14,"t":0.049,"I":-0.009},{"k":14,"t":0.051,"I":-0.002},{"k":14,"t":0.07,"I":0.002},{"k":14,"t":0.085,"I":-0.005},{"k":14,"t":0.0998,"I":-0.001},
      {"k":14,"t":0.1002,"I":-0.06},{"k":14,"t":0.103,"I":-0.03},
      {"k":14,"t":0.11,"I":-0.021},{"k":14,"t":0.12,"I":-0.027},{"k":14,"t":0.13,"I":-0.019},{"k":14,"t":0.14,"I":-0.025},{"k":14,"t":0.15,"I":-0.03},{"k":14,"t":0.16,"I":-0.022},{"k":14,"t":0.17,"I":-0.018},{"k":14,"t":0.18,"I":-0.026},{"k":14,"t":0.19,"I":-0.023},{"k":14,"t":0.2,"I":-0.029},
      {"k":14,"t":0.21,"I":-0.02},{"k":14,"t":0.22,"I":-0.024},{"k":14,"t":0.23,"I":-0.028},{"k":14,"t":0.24,"I":-0.019},{"k":14,"t":0.25,"I":-0.025},{"k":14,"t":0.26,"I":-0.031},{"k":14,"t":0.27,"I":-0.022},{"k":14,"t":0.28,"I":-0.026},{"k":14,"t":0.29,"I":-0.018},{"k":14,"t":0.3,"I":-0.024},
      {"k":14,"t":0.31,"I":-0.029},{"k":14,"t":0.32,"I":-0.021},{"k":14,"t":0.33,"I":-0.027},{"k":14,"t":0.34,"I":-0.023},{"k":14,"t":0.35,"I":-0.019},{"k":14,"t":0.36,"I":-0.026},{"k":14,"t":0.37,"I":-0.03},{"k":14,"t":0.38,"I":-0.022},{"k":14,"t":0.39,"I":-0.025},{"k":14,"t":0.4,"I":-0.018},
      {"k":14,"t":0.41,"I":-0.024},{"k":14,"t":0.42,"I":-0.028},{"k":14,"t":0.43,"I":-0.02},{"k":14,"t":0.44,"I":-0.026},{"k":14,"t":0.45,"I":-0.023},{"k":14,"t":0.46,"I":-0.031},{"k":14,"t":0.47,"I":-0.021},{"k":14,"t":0.48,"I":-0.025},{"k":14,"t":0.49,"I":-0.019},{"k":14,"t":0.5,"I":-0.027},
      {"k":14,"t":0.51,"I":-0.022},{"k":14,"t":0.52,"I":-0.029},{"k":14,"t":0.53,"I":-0.024},{"k":14,"t":0.54,"I":-0.018},{"k":14,"t":0.55,"I":-0.026},{"k":14,"t":0.56,"I":-0.021},{"k":14,"t":0.57,"I":-0.028},{"k":14,"t":0.58,"I":-0.023},{"k":14,"t":0.59,"I":-0.025},{"k":14,"t":0.5995,"I":-0.024},
      {"k":14,"t":0.6003,"I":0.01},{"k":14,"t":0.602,"I":0.007},{"k":14,"t":0.606,"I":0.005},{"k":14,"t":0.615,"I":0.007},{"k":14,"t":0.63,"I":0.005},{"k":14,"t":0.65,"I":0.006},{"k":14,"t":0.675,"I":0.004},{"k":14,"t":0.7,"I":0.005},

      {"k":15,"t":0.001,"I":0.0},{"k":15,"t":0.02,"I":0.002},{"k":15,"t":0.039,"I":-0.002},{"k":15,"t":0.041,"I":-0.01},{"k":15,"t":0.049,"I":-0.012},{"k":15,"t":0.051,"I":0.003},{"k":15,"t":0.07,"I":-0.001},{"k":15,"t":0.085,"I":-0.004},{"k":15,"t":0.0998,"I":0.002},
      {"k":15,"t":0.1002,"I":-0.072},{"k":15,"t":0.103,"I":-0.042},
      {"k":15,"t":0.11,"I":-0.038},{"k":15,"t":0.12,"I":-0.032},{"k":15,"t":0.13,"I":-0.04},{"k":15,"t":0.14,"I":-0.035},{"k":15,"t":0.15,"I":-0.031},{"k":15,"t":0.16,"I":-0.039},{"k":15,"t":0.17,"I":-0.043},{"k":15,"t":0.18,"I":-0.034},{"k":15,"t":0.19,"I":-0.037},{"k":15,"t":0.2,"I":-0.03},
      {"k":15,"t":0.21,"I":-0.036},{"k":15,"t":0.22,"I":-0.041},{"k":15,"t":0.23,"I":-0.033},{"k":15,"t":0.24,"I":-0.038},{"k":15,"t":0.25,"I":-0.035},{"k":15,"t":0.26,"I":-0.042},{"k":15,"t":0.27,"I":-0.031},{"k":15,"t":0.28,"I":-0.037},{"k":15,"t":0.29,"I":-0.04},{"k":15,"t":0.3,"I":-0.033},
      {"k":15,"t":0.31,"I":-0.036},{"k":15,"t":0.32,"I":-0.03},{"k":15,"t":0.33,"I":-0.039},{"k":15,"t":0.34,"I":-0.044},{"k":15,"t":0.35,"I":-0.035},{"k":15,"t":0.36,"I":-0.032},{"k":15,"t":0.37,"I":-0.038},{"k":15,"t":0.38,"I":-0.041},{"k":15,"t":0.39,"I":-0.034},{"k":15,"t":0.4,"I":-0.037},
      {"k":15,"t":0.41,"I":-0.031},{"k":15,"t":0.42,"I":-0.039},{"k":15,"t":0.43,"I":-0.036},{"k":15,"t":0.44,"I":-0.042},{"k":15,"t":0.45,"I":-0.033},{"k":15,"t":0.46,"I":-0.037},{"k":15,"t":0.47,"I":-0.03},{"k":15,"t":0.48,"I":-0.04},{"k":15,"t":0.49,"I":-0.035},{"k":15,"t":0.5,"I":-0.038},
      {"k":15,"t":0.51,"I":-0.043},{"k":15,"t":0.52,"I":-0.034},{"k":15,"t":0.53,"I":-0.031},{"k":15,"t":0.54,"I":-0.039},{"k":15,"t":0.55,"I":-0.036},{"k":15,"t":0.56,"I":-0.041},{"k":15,"t":0.57,"I":-0.033},{"k":15,"t":0.58,"I":-0.038},{"k":15,"t":0.59,"I":-0.035},{"k":15,"t":0.5995,"I":-0.036},
      {"k":15,"t":0.6003,"I":0.011},{"k":15,"t":0.602,"I":0.008},{"k":15,"t":0.606,"I":0.006},{"k":15,"t":0.615,"I":0.004},{"k":15,"t":0.63,"I":0.007},{"k":15,"t":0.65,"I":0.005},{"k":15,"t":0.675,"I":0.006},{"k":15,"t":0.7,"I":0.004},

      {"k":16,"t":0.001,"I":-0.002},{"k":16,"t":0.02,"I":-0.001},{"k":16,"t":0.039,"I":0.002},{"k":16,"t":0.041,"I":-0.013},{"k":16,"t":0.049,"I":-0.011},{"k":16,"t":0.051,"I":0.0},{"k":16,"t":0.07,"I":0.001},{"k":16,"t":0.085,"I":-0.006},{"k":16,"t":0.0998,"I":0.0},
      {"k":16,"t":0.1002,"I":-0.085},{"k":16,"t":0.103,"I":-0.055},
      {"k":16,"t":0.11,"I":-0.045},{"k":16,"t":0.12,"I":-0.051},{"k":16,"t":0.13,"I":-0.047},{"k":16,"t":0.14,"I":-0.054},{"k":16,"t":0.15,"I":-0.044},{"k":16,"t":0.16,"I":-0.049},{"k":16,"t":0.17,"I":-0.052},{"k":16,"t":0.18,"I":-0.043},{"k":16,"t":0.19,"I":-0.05},{"k":16,"t":0.2,"I":-0.046},
      {"k":16,"t":0.21,"I":-0.055},{"k":16,"t":0.22,"I":-0.048},{"k":16,"t":0.23,"I":-0.044},{"k":16,"t":0.24,"I":-0.051},{"k":16,"t":0.25,"I":-0.047},{"k":16,"t":0.26,"I":-0.053},{"k":16,"t":0.27,"I":-0.045},{"k":16,"t":0.28,"I":-0.049},{"k":16,"t":0.29,"I":-0.042},{"k":16,"t":0.3,"I":-0.05},
      {"k":16,"t":0.31,"I":-0.054},{"k":16,"t":0.32,"I":-0.046},{"k":16,"t":0.33,"I":-0.048},{"k":16,"t":0.34,"I":-0.052},{"k":16,"t":0.35,"I":-0.044},{"k":16,"t":0.36,"I":-0.05},{"k":16,"t":0.37,"I":-0.047},{"k":16,"t":0.38,"I":-0.055},{"k":16,"t":0.39,"I":-0.045},{"k":16,"t":0.4,"I":-0.049},
      {"k":16,"t":0.41,"I":-0.043},{"k":16,"t":0.42,"I":-0.051},{"k":16,"t":0.43,"I":-0.048},{"k":16,"t":0.44,"I":-0.053},{"k":16,"t":0.45,"I":-0.046},{"k":16,"t":0.46,"I":-0.05},{"k":16,"t":0.47,"I":-0.044},{"k":16,"t":0.48,"I":-0.052},{"k":16,"t":0.49,"I":-0.047},{"k":16,"t":0.5,"I":-0.054},
      {"k":16,"t":0.51,"I":-0.045},{"k":16,"t":0.52,"I":-0.049},{"k":16,"t":0.53,"I":-0.051},{"k":16,"t":0.54,"I":-0.043},{"k":16,"t":0.55,"I":-0.048},{"k":16,"t":0.56,"I":-0.053},{"k":16,"t":0.57,"I":-0.046},{"k":16,"t":0.58,"I":-0.05},{"k":16,"t":0.59,"I":-0.047},{"k":16,"t":0.5995,"I":-0.048},
      {"k":16,"t":0.6003,"I":0.012},{"k":16,"t":0.602,"I":0.009},{"k":16,"t":0.606,"I":0.005},{"k":16,"t":0.615,"I":0.007},{"k":16,"t":0.63,"I":0.004},{"k":16,"t":0.65,"I":0.006},{"k":16,"t":0.675,"I":0.005},{"k":16,"t":0.7,"I":0.007},

      {"k":17,"t":0.001,"I":0.001},{"k":17,"t":0.02,"I":0.001},{"k":17,"t":0.039,"I":-0.001},{"k":17,"t":0.041,"I":-0.009},{"k":17,"t":0.049,"I":-0.013},{"k":17,"t":0.051,"I":0.002},{"k":17,"t":0.07,"I":-0.003},{"k":17,"t":0.085,"I":-0.003},{"k":17,"t":0.0998,"I":0.001},
      {"k":17,"t":0.1002,"I":-0.098},{"k":17,"t":0.103,"I":-0.068},
      {"k":17,"t":0.11,"I":-0.058},{"k":17,"t":0.12,"I":-0.065},{"k":17,"t":0.13,"I":-0.06},{"k":17,"t":0.14,"I":-0.067},{"k":17,"t":0.15,"I":-0.057},{"k":17,"t":0.16,"I":-0.063},{"k":17,"t":0.17,"I":-0.069},{"k":17,"t":0.18,"I":-0.059},{"k":17,"t":0.19,"I":-0.064},{"k":17,"t":0.2,"I":-0.061},
      {"k":17,"t":0.21,"I":-0.068},{"k":17,"t":0.22,"I":-0.056},{"k":17,"t":0.23,"I":-0.062},{"k":17,"t":0.24,"I":-0.066},{"k":17,"t":0.25,"I":-0.059},{"k":17,"t":0.26,"I":-0.064},{"k":17,"t":0.27,"I":-0.07},{"k":17,"t":0.28,"I":-0.061},{"k":17,"t":0.29,"I":-0.057},{"k":17,"t":0.3,"I":-0.065},
      {"k":17,"t":0.31,"I":-0.06},{"k":17,"t":0.32,"I":-0.067},{"k":17,"t":0.33,"I":-0.058},{"k":17,"t":0.34,"I":-0.063},{"k":17,"t":0.35,"I":-0.069},{"k":17,"t":0.36,"I":-0.061},{"k":17,"t":0.37,"I":-0.065},{"k":17,"t":0.38,"I":-0.057},{"k":17,"t":0.39,"I":-0.062},{"k":17,"t":0.4,"I":-0.068},
      {"k":17,"t":0.41,"I":-0.059},{"k":17,"t":0.42,"I":-0.064},{"k":17,"t":0.43,"I":-0.06},{"k":17,"t":0.44,"I":-0.066},{"k":17,"t":0.45,"I":-0.058},{"k":17,"t":0.46,"I":-0.063},{"k":17,"t":0.47,"I":-0.07},{"k":17,"t":0.48,"I":-0.061},{"k":17,"t":0.49,"I":-0.065},{"k":17,"t":0.5,"I":-0.059},
      {"k":17,"t":0.51,"I":-0.067},{"k":17,"t":0.52,"I":-0.062},{"k":17,"t":0.53,"I":-0.057},{"k":17,"t":0.54,"I":-0.064},{"k":17,"t":0.55,"I":-0.06},{"k":17,"t":0.56,"I":-0.068},{"k":17,"t":0.57,"I":-0.061},{"k":17,"t":0.58,"I":-0.065},{"k":17,"t":0.59,"I":-0.063},{"k":17,"t":0.5995,"I":-0.062},
      {"k":17,"t":0.6003,"I":0.013},{"k":17,"t":0.602,"I":0.008},{"k":17,"t":0.606,"I":0.006},{"k":17,"t":0.615,"I":0.005},{"k":17,"t":0.63,"I":0.006},{"k":17,"t":0.65,"I":0.004},{"k":17,"t":0.675,"I":0.006},{"k":17,"t":0.7,"I":0.005},

      {"k":18,"t":0.001,"I":-0.001},{"k":18,"t":0.02,"I":-0.003},{"k":18,"t":0.039,"I":0.003},{"k":18,"t":0.041,"I":-0.011},{"k":18,"t":0.049,"I":-0.01},{"k":18,"t":0.051,"I":-0.001},{"k":18,"t":0.07,"I":0.002},{"k":18,"t":0.085,"I":-0.005},{"k":18,"t":0.0998,"I":-0.002},
      {"k":18,"t":0.1002,"I":-0.112},{"k":18,"t":0.103,"I":-0.083},
      {"k":18,"t":0.11,"I":-0.072},{"k":18,"t":0.12,"I":-0.079},{"k":18,"t":0.13,"I":-0.071},{"k":18,"t":0.14,"I":-0.08},{"k":18,"t":0.15,"I":-0.074},{"k":18,"t":0.16,"I":-0.068},{"k":18,"t":0.17,"I":-0.077},{"k":18,"t":0.18,"I":-0.082},{"k":18,"t":0.19,"I":-0.073},{"k":18,"t":0.2,"I":-0.079},
      {"k":18,"t":0.205,"I":-0.095},{"k":18,"t":0.21,"I":-0.084},{"k":18,"t":0.22,"I":-0.074},{"k":18,"t":0.23,"I":-0.069},{"k":18,"t":0.24,"I":-0.078},{"k":18,"t":0.25,"I":-0.072},{"k":18,"t":0.26,"I":-0.081},{"k":18,"t":0.27,"I":-0.075},{"k":18,"t":0.28,"I":-0.07},{"k":18,"t":0.29,"I":-0.079},
      {"k":18,"t":0.3,"I":-0.073},{"k":18,"t":0.31,"I":-0.083},{"k":18,"t":0.32,"I":-0.076},{"k":18,"t":0.33,"I":-0.07},{"k":18,"t":0.34,"I":-0.078},{"k":18,"t":0.35,"I":-0.074},{"k":18,"t":0.36,"I":-0.081},{"k":18,"t":0.37,"I":-0.072},{"k":18,"t":0.38,"I":-0.077},{"k":18,"t":0.39,"I":-0.069},
      {"k":18,"t":0.4,"I":-0.078},{"k":18,"t":0.41,"I":-0.073},{"k":18,"t":0.42,"I":-0.08},{"k":18,"t":0.43,"I":-0.071},{"k":18,"t":0.44,"I":-0.076},{"k":18,"t":0.448,"I":-0.079},{"k":18,"t":0.451,"I":-0.1},{"k":18,"t":0.453,"I":-0.126},{"k":18,"t":0.455,"I":-0.104},{"k":18,"t":0.457,"I":-0.13},
      {"k":18,"t":0.459,"I":-0.11},{"k":18,"t":0.461,"I":-0.153},{"k":18,"t":0.463,"I":-0.098},{"k":18,"t":0.465,"I":-0.08},{"k":18,"t":0.47,"I":-0.074},{"k":18,"t":0.48,"I":-0.079},{"k":18,"t":0.49,"I":-0.071},{"k":18,"t":0.5,"I":-0.077},{"k":18,"t":0.51,"I":-0.082},{"k":18,"t":0.52,"I":-0.073},
      {"k":18,"t":0.53,"I":-0.079},{"k":18,"t":0.54,"I":-0.07},{"k":18,"t":0.55,"I":-0.076},{"k":18,"t":0.56,"I":-0.081},{"k":18,"t":0.57,"I":-0.072},{"k":18,"t":0.58,"I":-0.078},{"k":18,"t":0.59,"I":-0.074},{"k":18,"t":0.5995,"I":-0.076},
      {"k":18,"t":0.6003,"I":0.014},{"k":18,"t":0.602,"I":0.009},{"k":18,"t":0.606,"I":0.007},{"k":18,"t":0.615,"I":0.004},{"k":18,"t":0.63,"I":0.006},{"k":18,"t":0.65,"I":0.005},{"k":18,"t":0.675,"I":0.003},{"k":18,"t":0.7,"I":0.006}
    ]
  },
  "layer": [
    {
      "mark": {"type": "line", "color": "#000000", "strokeWidth": 1.2, "clip": true},
      "encoding": {
        "x": {
          "field": "t",
          "type": "quantitative",
          "scale": {"domain": [0.001, 0.7], "nice": false, "zero": false},
          "axis": {
            "title": "t [s]",
            "values": [0.1, 0.6],
            "format": ".1f",
            "grid": false,
            "tickSize": -6,
            "labelPadding": 18,
            "labelFontSize": 22,
            "labelColor": "#262626",
            "domainColor": "#4d4d4d",
            "tickColor": "#4d4d4d",
            "titleFontSize": 24,
            "titleFontWeight": "normal",
            "titleColor": "#262626",
            "titlePadding": 10
          }
        },
        "y": {
          "field": "I",
          "type": "quantitative",
          "scale": {"domain": [-0.378, 0.727], "nice": false, "zero": false},
          "axis": {
            "title": "I [nA]",
            "values": [-0.3, 0, 0.3, 0.6],
            "labelExpr": "replace(format(datum.value, '.1~f'), '\u2212', '-')",
            "grid": false,
            "tickSize": -6,
            "labelPadding": 22,
            "labelFontSize": 22,
            "labelColor": "#262626",
            "domainColor": "#4d4d4d",
            "tickColor": "#4d4d4d",
            "titleFontSize": 24,
            "titleFontWeight": "normal",
            "titleColor": "#262626",
            "titlePadding": 6
          }
        },
        "detail": {"field": "k", "type": "nominal"}
      }
    },
    {
      "data": {"values": [{"label": "25 °C \u00a0Activation"}]},
      "mark": {"type": "text", "align": "right", "baseline": "alphabetic", "fontSize": 19, "dx": -1, "dy": 4, "color": "#000000"},
      "encoding": {
        "x": {"datum": 0.7},
        "y": {"datum": 0.727},
        "text": {"field": "label"}
      }
    },
    {
      "data": {"values": [{"label": "BBP Channelpedia ID 29672 rep 3"}]},
      "mark": {"type": "text", "angle": 270, "align": "center", "baseline": "alphabetic", "fontSize": 13.5, "dy": 17, "color": "#000000"},
      "encoding": {
        "x": {"datum": 0.7},
        "y": {"datum": 0.174},
        "text": {"field": "label"}
      }
    }
  ]
}
